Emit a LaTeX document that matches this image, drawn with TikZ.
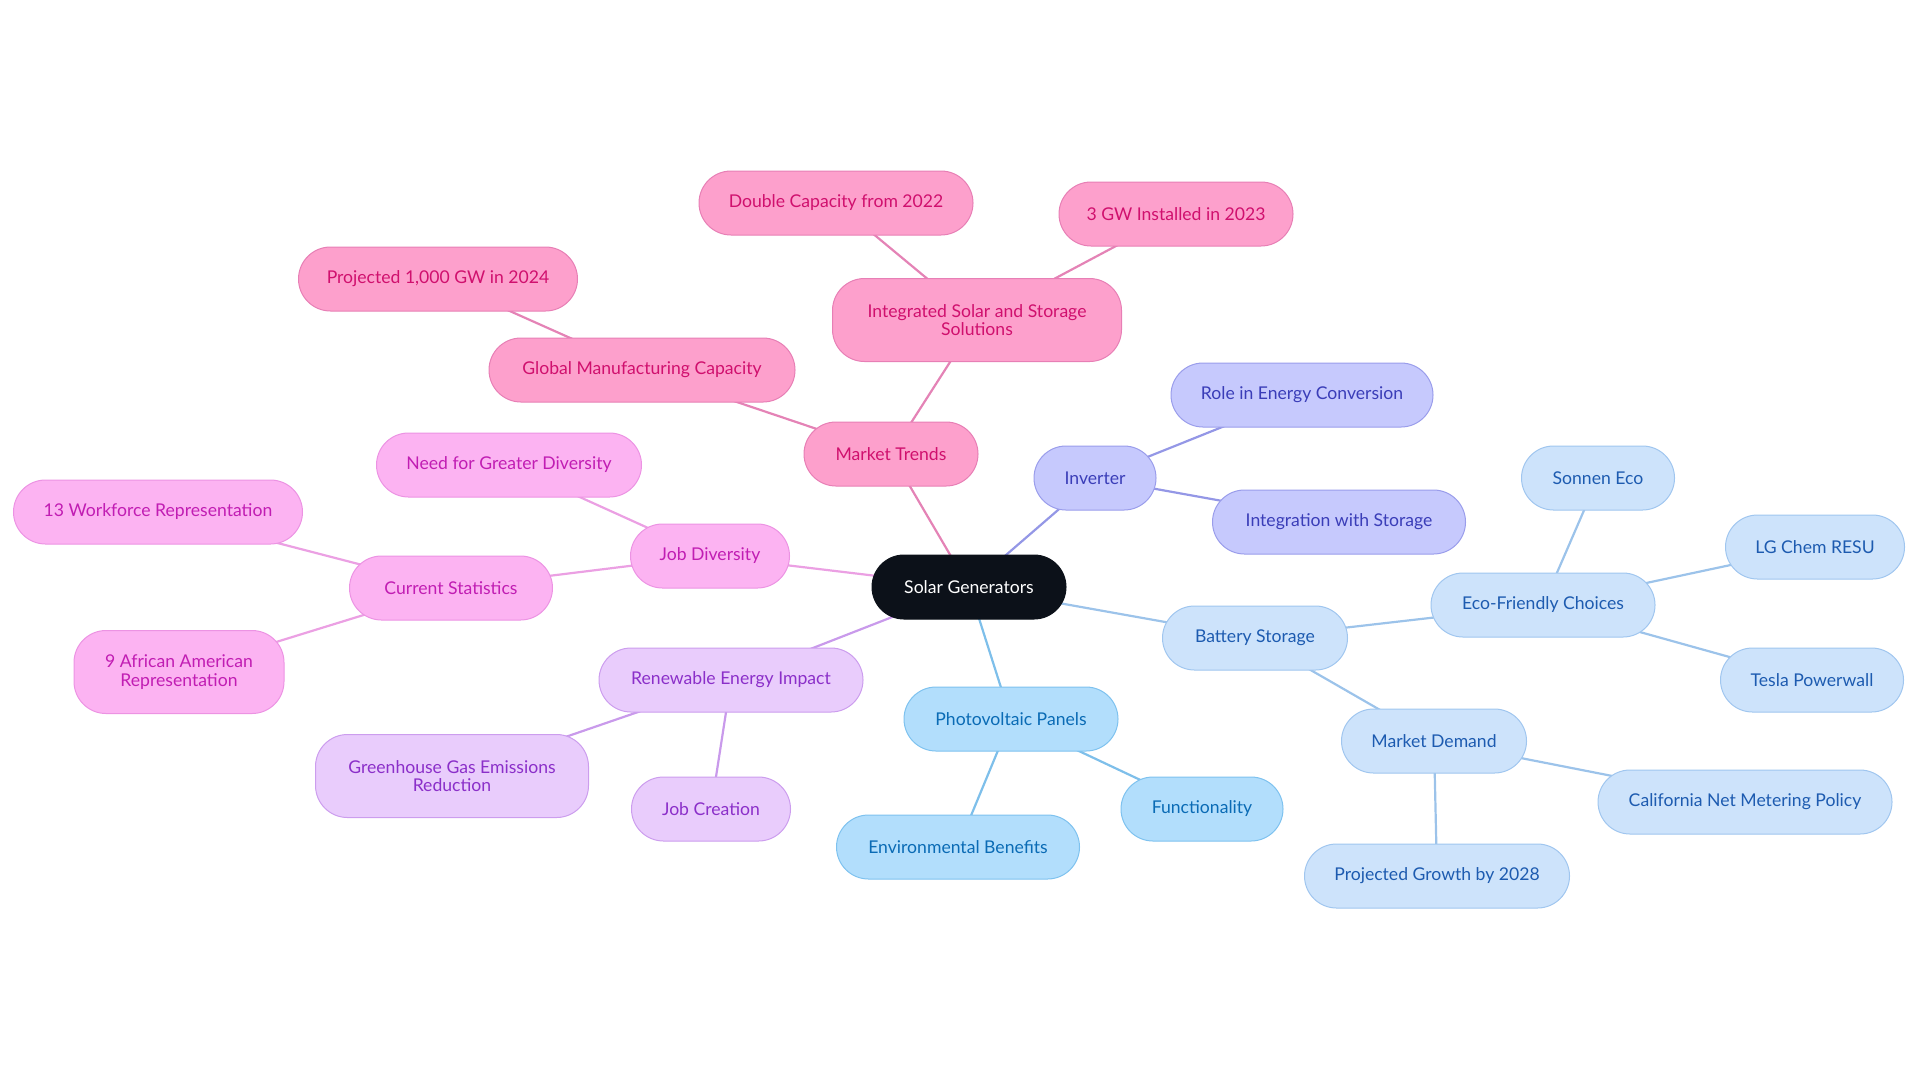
\documentclass[tikz,border=0pt]{standalone}
\usepackage{fontspec}
\setmainfont{Lato}
\usetikzlibrary{backgrounds}
\definecolor{cfill}{HTML}{0C1119}
\definecolor{pkfill}{HTML}{FDA0CC}\definecolor{pkdraw}{HTML}{E77FB5}\definecolor{pktext}{HTML}{D0106E}\definecolor{pkline}{HTML}{E483B6}
\definecolor{mgfill}{HTML}{FCB3F2}\definecolor{mgdraw}{HTML}{EC93E3}\definecolor{mgtext}{HTML}{C11DB3}\definecolor{mgline}{HTML}{EBA0E3}
\definecolor{vifill}{HTML}{E9CCFC}\definecolor{vidraw}{HTML}{CC9DEE}\definecolor{vitext}{HTML}{8B2FC9}\definecolor{viline}{HTML}{C99AEB}
\definecolor{infill}{HTML}{C6C9FD}\definecolor{indraw}{HTML}{9A9DEB}\definecolor{intext}{HTML}{3A3DB8}\definecolor{inline}{HTML}{9497E6}
\definecolor{pvfill}{HTML}{B2DEFC}\definecolor{pvdraw}{HTML}{7EC2EF}\definecolor{pvtext}{HTML}{0A6BB5}\definecolor{pvline}{HTML}{7EBFEA}
\definecolor{btfill}{HTML}{CDE3FB}\definecolor{btdraw}{HTML}{A0C6EF}\definecolor{bttext}{HTML}{1D5BB0}\definecolor{btline}{HTML}{9CC3EA}
\tikzset{
  box/.style={rounded corners=16pt, minimum height=32pt, inner sep=0pt, align=center,
    font=\fontsize{8.8}{9.2}\selectfont, line width=0.5pt},
  mw/.style={minimum width=#1*0.5pt},
  two/.style={minimum height=41.5pt},
  center/.style={box, fill=cfill, draw=cfill, text=white},
  pk/.style={box, fill=pkfill, draw=pkdraw, text=pktext},
  mg/.style={box, fill=mgfill, draw=mgdraw, text=mgtext},
  vi/.style={box, fill=vifill, draw=vidraw, text=vitext},
  inv/.style={box, fill=infill, draw=indraw, text=intext},
  pv/.style={box, fill=pvfill, draw=pvdraw, text=pvtext},
  bt/.style={box, fill=btfill, draw=btdraw, text=bttext},
  edge/.style={line width=1.1pt, draw=#1},
}
\begin{document}
\begin{tikzpicture}[x=0.5pt,y=-0.5pt]
\useasboundingbox (0,0) rectangle (1920,1083);
\node[center, mw=194] (sg) at (969,587) {Solar Generators};
% market trends
\node[pk, mw=174] (mt) at (891,454) {Market Trends};
\node[pk, mw=289, two] (iss) at (977,320) {Integrated Solar and Storage\\Solutions};
\node[pk, mw=274] (dc) at (836,203) {Double Capacity from 2022};
\node[pk, mw=234] (gw3) at (1176,214) {3 GW Installed in 2023};
\node[pk, mw=306] (gmc) at (642,370) {Global Manufacturing Capacity};
\node[pk, mw=279] (p1000) at (438,279) {Projected 1,000 GW in 2024};
% inverter
\node[inv, mw=122] (inv) at (1095,478) {Inverter};
\node[inv, mw=262] (rec) at (1302,395) {Role in Energy Conversion};
\node[inv, mw=253] (iws) at (1339,522) {Integration with Storage};
% job diversity
\node[mg, mw=159] (jd) at (710,556) {Job Diversity};
\node[mg, mw=265] (ngd) at (509,465) {Need for Greater Diversity};
\node[mg, mw=203] (cs) at (451,588) {Current Statistics};
\node[mg, mw=289] (wr) at (158,512) {13 Workforce Representation};
\node[mg, mw=210, two] (aar) at (179,672) {9 African American\\Representation};
% renewable
\node[vi, mw=264] (rei) at (731,680) {Renewable Energy Impact};
\node[vi, mw=273, two] (ghg) at (452,776) {Greenhouse Gas Emissions\\Reduction};
\node[vi, mw=159] (jc) at (711,809) {Job Creation};
% photovoltaic
\node[pv, mw=214] (pvp) at (1011,719) {Photovoltaic Panels};
\node[pv, mw=243] (env) at (958,847) {Environmental Benefits};
\node[pv, mw=162] (fun) at (1202,809) {Functionality};
% battery
\node[bt, mw=185] (bs) at (1255,638) {Battery Storage};
\node[bt, mw=224] (efc) at (1543,605) {Eco-Friendly Choices};
\node[bt, mw=153] (se) at (1598,478) {Sonnen Eco};
\node[bt, mw=179] (lg) at (1815,547) {LG Chem RESU};
\node[bt, mw=183] (tp) at (1812,680) {Tesla Powerwall};
\node[bt, mw=185] (md) at (1434,741) {Market Demand};
\node[bt, mw=294] (cnm) at (1745,802) {California Net Metering Policy};
\node[bt, mw=265] (pg) at (1437,876) {Projected Growth by 2028};
\begin{scope}[on background layer]
\draw[edge=pkline] (sg.center) -- (mt.center);
\draw[edge=pkline] (mt.center) -- (iss.center);
\draw[edge=pkline] (iss.center) -- (dc.center);
\draw[edge=pkline] (iss.center) -- (gw3.center);
\draw[edge=pkline] (mt.center) -- (gmc.center);
\draw[edge=pkline] (gmc.center) -- (p1000.center);
\draw[edge=inline] (sg.center) -- (inv.center);
\draw[edge=inline] (inv.center) -- (rec.center);
\draw[edge=inline] (inv.center) -- (iws.center);
\draw[edge=mgline] (sg.center) -- (jd.center);
\draw[edge=mgline] (jd.center) -- (ngd.center);
\draw[edge=mgline] (jd.center) -- (cs.center);
\draw[edge=mgline] (cs.center) -- (wr.center);
\draw[edge=mgline] (cs.center) -- (aar.center);
\draw[edge=viline] (sg.center) -- (rei.center);
\draw[edge=viline] (rei.center) -- (ghg.center);
\draw[edge=viline] (rei.center) -- (jc.center);
\draw[edge=pvline] (sg.center) -- (pvp.center);
\draw[edge=pvline] (pvp.center) -- (env.center);
\draw[edge=pvline] (pvp.center) -- (fun.center);
\draw[edge=btline] (sg.center) -- (bs.center);
\draw[edge=btline] (bs.center) -- (efc.center);
\draw[edge=btline] (efc.center) -- (se.center);
\draw[edge=btline] (efc.center) -- (lg.center);
\draw[edge=btline] (efc.center) -- (tp.center);
\draw[edge=btline] (bs.center) -- (md.center);
\draw[edge=btline] (md.center) -- (cnm.center);
\draw[edge=btline] (md.center) -- (pg.center);
\end{scope}
\end{tikzpicture}
\end{document}
